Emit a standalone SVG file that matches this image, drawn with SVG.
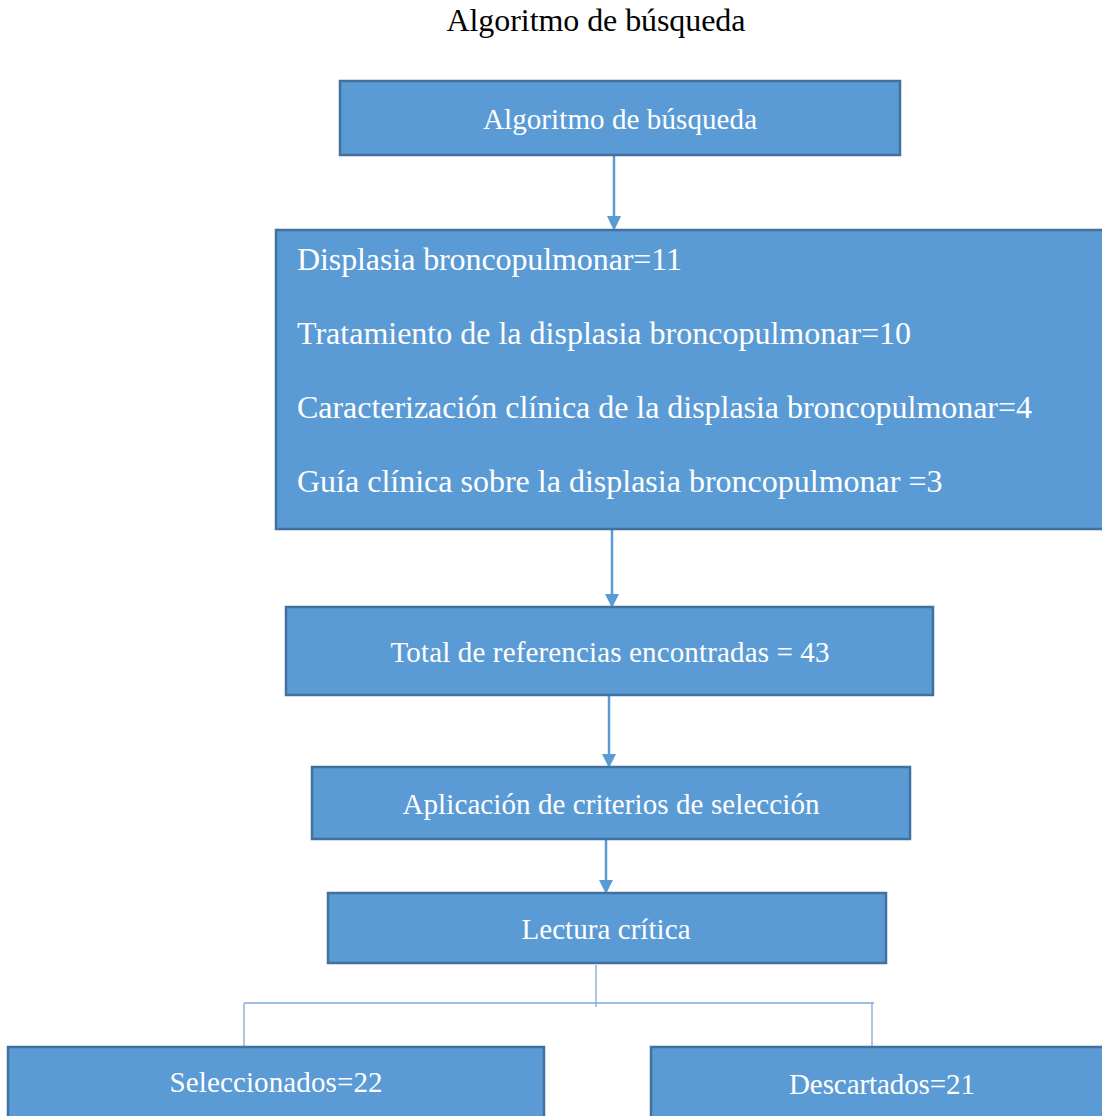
<svg xmlns="http://www.w3.org/2000/svg" width="1102" height="1116" viewBox="0 0 1102 1116">
<defs>
<style>
.box{fill:#5B9BD5;stroke:#41719C;stroke-width:2.5}
.t{font-family:"Liberation Serif","Times New Roman",serif;fill:#ffffff;font-size:29px}
.tl{font-family:"Liberation Serif","Times New Roman",serif;fill:#ffffff;font-size:32px}
.title{font-family:"Liberation Serif","Times New Roman",serif;fill:#000000;font-size:32px}
.arr{stroke:#5B9BD5;stroke-width:2.5;fill:none}
.thin{stroke:#7EAADB;stroke-width:1.3;fill:none}
</style>
<marker id="ah" markerWidth="14" markerHeight="14" refX="7" refY="13" orient="auto" markerUnits="userSpaceOnUse" viewBox="0 0 14 14">
<path d="M0,0 L14,0 L7,14 Z" fill="#5B9BD5" transform="rotate(-90 7 7)"/>
</marker>
</defs>
<rect width="1102" height="1116" fill="#ffffff"/>
<text class="title" x="596" y="31" text-anchor="middle" textLength="299">Algoritmo de búsqueda</text>
<g id="connectors">
<line class="arr" x1="614" y1="156" x2="614" y2="218"/>
<path d="M607,216 L621,216 L614,231 Z" fill="#5B9BD5"/>
<line class="arr" x1="612" y1="530" x2="612" y2="596"/>
<path d="M605,594 L619,594 L612,608 Z" fill="#5B9BD5"/>
<line class="arr" x1="609" y1="696" x2="609" y2="756"/>
<path d="M602,754 L616,754 L609,768 Z" fill="#5B9BD5"/>
<line class="arr" x1="606" y1="840" x2="606" y2="882"/>
<path d="M599,880 L613,880 L606,894 Z" fill="#5B9BD5"/>
<line class="thin" x1="596" y1="965" x2="596" y2="1007"/>
<line class="thin" x1="244" y1="1003" x2="874" y2="1003"/>
<line class="thin" x1="244" y1="1003" x2="244" y2="1047"/>
<line class="thin" x1="872" y1="1003" x2="872" y2="1047"/>
</g>
<g id="n1">
<rect class="box" x="340" y="81" width="560" height="74"/>
<text class="t" x="620" y="129" text-anchor="middle" textLength="274">Algoritmo de búsqueda</text>
</g>
<g id="n2">
<rect class="box" x="276" y="230" width="830" height="299"/>
<text class="tl" x="297" y="270" textLength="385">Displasia broncopulmonar=11</text>
<text class="tl" x="297" y="344">Tratamiento de la displasia broncopulmonar=10</text>
<text class="tl" x="297" y="418" textLength="735">Caracterización clínica de la displasia broncopulmonar=4</text>
<text class="tl" x="297" y="492">Guía clínica sobre la displasia broncopulmonar =3</text>
</g>
<g id="n3">
<rect class="box" x="286" y="607" width="647" height="88"/>
<text class="t" x="610" y="662" text-anchor="middle" textLength="439">Total de referencias encontradas = 43</text>
</g>
<g id="n4">
<rect class="box" x="312" y="767" width="598" height="72"/>
<text class="t" x="611" y="814" text-anchor="middle" textLength="417">Aplicación de criterios de selección</text>
</g>
<g id="n5">
<rect class="box" x="328" y="893" width="558" height="70"/>
<text class="t" x="606" y="939" text-anchor="middle" textLength="169">Lectura crítica</text>
</g>
<g id="n6">
<rect class="box" x="8" y="1047" width="536" height="75"/>
<text class="t" x="276" y="1092" text-anchor="middle" textLength="213">Seleccionados=22</text>
</g>
<g id="n7">
<rect class="box" x="651" y="1047" width="460" height="75"/>
<text class="t" x="882" y="1094" text-anchor="middle" textLength="186">Descartados=21</text>
</g>
</svg>
